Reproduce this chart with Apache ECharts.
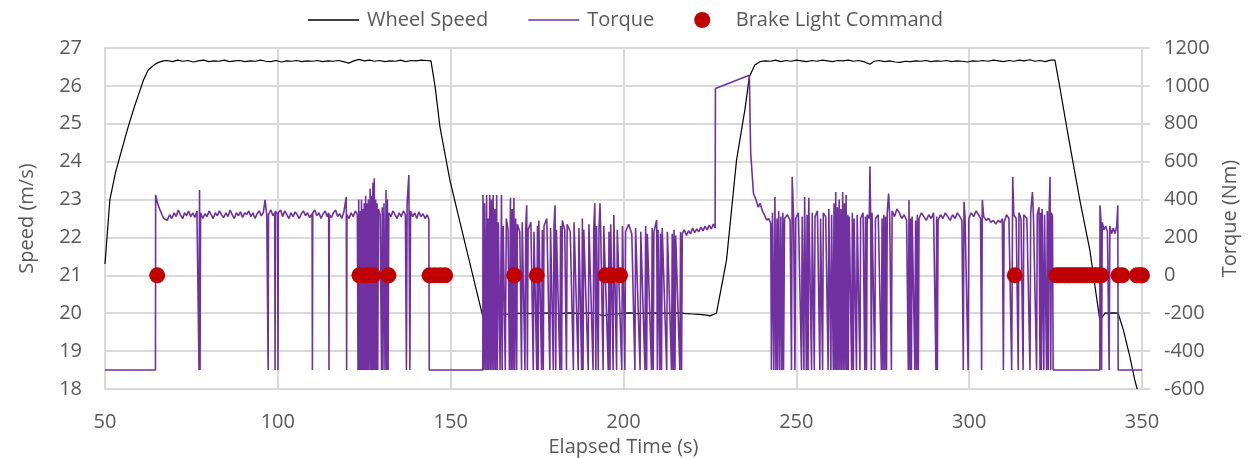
<!DOCTYPE html>
<html><head><meta charset="utf-8">
<script src="https://cdn.jsdelivr.net/npm/echarts@6/dist/echarts.min.js"></script>
<style>html,body{margin:0;padding:0;background:#fff}#c{width:1251px;height:458px}</style>
</head><body><div id="c"></div>
<script>
// Elapsed time ticks
const xTicks = {min: 50, max: 350, step: 50};
const speedTicks = {min: 18, max: 27, step: 1};
const torqueTicks = {min: -600, max: 1200, step: 200};

// Wheel speed [time s, speed m/s]
const wheelSpeed = [
[50,21.3],[51.4,22.99],[53,23.7],[54.8,24.3],[56.7,24.92],[58.5,25.45],[60,25.85],[61.1,26.15],[62.5,26.42],[63.5,26.5],[64.5,26.57],[65.5,26.62],[66.9,26.66],
[68,26.67],[69.5,26.64],[71,26.68],[72.5,26.65],[74,26.67],[75.5,26.63],[77,26.66],[78.5,26.68],[80,26.64],[81.5,26.66],[83,26.65],[84.5,26.68],[86,26.64],[87.5,26.66],[89,26.67],[90.5,26.64],[92,26.66],[93.5,26.65],[95,26.68],[96.5,26.65],[98,26.64],[99.5,26.67],[101,26.63],[102.5,26.66],[104,26.65],[105.5,26.67],[107,26.64],[108.5,26.66],[110,26.65],[111.5,26.67],[113,26.64],[114.5,26.66],[116,26.65],[117.5,26.67],[119,26.64],[120.5,26.6],[122,26.66],[123.5,26.7],[125,26.66],[126.5,26.68],[128,26.65],[129.5,26.67],[131,26.64],[132.5,26.66],[134,26.65],[135.5,26.68],[137,26.64],[138.5,26.67],[140,26.66],[141.5,26.68],[143,26.67],[144.3,26.66],
[145.5,25.98],[146.9,24.92],[149.8,23.5],[152.7,22.4],[155.6,21.3],[159.3,19.91],
[161,19.94],[163,19.96],[165.2,19.98],[167,19.97],[169,19.99],[171,20.0],[173,19.99],[174.9,20.01],[177,20.0],[179,20.01],[181,19.99],[183,20.0],[185,20.01],[187,19.99],[189,20.0],[191,20.01],[192.5,19.98],[194.1,19.93],[196,19.97],[198,19.98],[200,20.0],[202,20.01],[204,19.99],[206,20.0],[208,20.01],[210.5,20.0],[213.4,20.0],[216,20.01],[218,19.99],[220,19.98],[222,19.97],[224,19.95],[225,19.93],[226.9,20.0],
[229.8,21.4],[232.7,24.04],[235.1,25.36],[236.4,26.24],[238,26.55],[239.5,26.64],
[241,26.66],[242.5,26.65],[244,26.68],[245.5,26.64],[247,26.67],[248.5,26.65],[250,26.68],[251.5,26.66],[253,26.64],[254.5,26.67],[256,26.65],[257.5,26.68],[259,26.66],[260.5,26.64],[262,26.67],[263.5,26.66],[265,26.68],[266.5,26.65],[268,26.67],[269.5,26.64],[271.3,26.57],[272.5,26.65],[274,26.67],[275.5,26.64],[277,26.66],[278.5,26.63],[280,26.62],[281.5,26.65],[283,26.64],[284.5,26.66],[286,26.65],[287.5,26.67],[289,26.64],[290.5,26.66],[292,26.65],[293.5,26.67],[295,26.64],[296.5,26.66],[298,26.65],[299.5,26.63],[301,26.66],[302.5,26.65],[304,26.67],[305.5,26.65],[307,26.68],[308.5,26.66],[310,26.64],[311.5,26.67],[313,26.65],[314.5,26.68],[316,26.66],[317.5,26.69],[319,26.65],[320.5,26.67],[322,26.64],[323.5,26.68],[324.8,26.68],
[326.2,25.98],[328.2,24.92],[330,24.0],[332,22.99],[334.9,21.67],[337.8,19.82],[338.5,19.9],[339.3,20.0],[341.7,20.01],[343.1,20.0],[344.6,19.56],[346.5,18.85],[347.9,18.24],[348.6,18.0]
];

// Torque [time s, torque Nm]
const torque = [
[50,-500],[64.6,-500],[64.65,425],[65.2,380],[65.8,350],[66.5,320],[67,300],[67.5,310],[68,290],[68.7,320],[69.3,300],[70,330],[70.6,310],[71.2,345],[71.8,320],[72.5,300],[73,330],[73.6,315],[74.2,340],[74.8,310],[75.4,330],[76,305],[76.6,340],[77.1,330],[77.2,-500],[77.35,450],[77.5,-500],[77.65,330],[78.3,300],[78.9,325],[79.5,310],[80.1,340],[80.7,320],[81.3,300],[81.9,330],[82.5,315],[83.1,340],[83.7,320],[84.3,305],[85,330],[85.6,310],[86.2,345],[86.8,320],[87.4,300],[88,330],[88.6,315],[89.2,335],[89.8,305],[90.4,330],[91,320],[91.6,340],[92.2,310],[92.8,330],[93.4,300],[94,325],[94.6,340],[95.2,315],[95.8,330],[96.3,398],[96.8,320],[97.1,330],[97.2,-500],[97.3,320],[98,345],[98.6,315],[99.1,330],[99.2,-500],[99.3,340],[99.9,320],[100.05,-500],[100.15,330],[100.8,345],[101.4,310],[102,340],[102.6,320],[103.2,300],[103.8,330],[104.4,310],[105,335],[105.6,320],[106.2,300],[106.8,325],[107.4,340],[108,315],[108.6,330],[109.2,305],[109.9,325],[110,-500],[110.1,330],[110.7,345],[111.3,315],[111.9,330],[112.5,300],[113.1,325],[113.7,340],[114.3,310],[114.7,330],[114.8,-500],[114.9,320],[115.5,305],[116.1,330],[116.7,345],[117.3,310],[117.9,325],[118.5,300],[119.1,335],[119.8,414],[119.9,-500],[120,320],[120.6,300],[121.2,330],[121.8,310],[122.4,340],[123,320],[123.2,-500],[123.4,400],[123.6,-500],[123.8,340],[124,-500],[124.2,400],[124.4,-500],[124.6,350],[124.8,-500],[125,380],[125.2,-500],[125.4,420],[125.6,-500],[125.8,380],[126,-500],[126.2,400],[126.4,-500],[126.7,458],[126.9,-500],[127.1,420],[127.3,-500],[127.5,490],[127.7,-500],[127.9,512],[128.1,-500],[128.3,400],[128.5,-500],[128.7,380],[128.9,-500],[129.1,350],[129.6,320],[130,-500],[130.2,360],[130.4,-500],[130.7,380],[131,-500],[131.3,450],[131.5,-500],[131.7,400],[131.9,-500],[132.1,330],[132.7,310],[133.3,340],[133.9,320],[134.5,300],[135.1,330],[135.7,310],[136.3,340],[136.9,320],[137.2,-500],[137.4,380],[137.9,530],[138.2,-500],[138.4,340],[139,310],[139.6,330],[140.2,300],[140.8,335],[141.4,310],[142,325],[142.6,300],[143.2,320],[143.7,295],[143.8,-500],[159.3,-500],
[159.35,424],[159.6,-500],[159.8,380],[160.1,-500],[160.4,424],[160.6,-500],[160.8,300],[161,-500],[161.3,424],[161.5,-500],[161.8,400],[162,-500],[162.3,424],[162.5,-500],[162.8,350],[163,-500],[163.3,424],[163.5,-500],[163.8,280],[164.3,-500],[164.7,424],[164.9,-500],[165.2,260],[165.8,-500],[166.1,300],[166.6,240],[167,-500],[167.3,410],[167.5,-500],[167.8,350],[168,-500],[168.3,410],[168.5,-500],[168.8,300],[169.1,-500],[169.3,270],[170,230],[170.5,-500],[170.7,280],[171.5,-500],[171.7,250],[172,370],[172.2,-500],[172.4,240],[173.2,280],[173.9,-500],[174.1,230],[174.9,-500],[175.1,260],[175.3,-500],[175.5,290],[176.3,-500],[176.5,240],[176.8,-500],[177,260],[177.8,300],[178.7,-500],[178.9,250],[179.7,-500],[179.9,270],[180.2,370],[180.4,-500],[180.6,240],[181.6,-500],[181.8,260],[182.1,-500],[182.3,290],[183,240],[183.5,-500],[183.7,270],[184.6,230],[185.5,-500],[185.7,280],[186.9,-500],[187.1,250],[187.9,-500],[188.1,300],[188.3,-500],[188.5,240],[189.8,-500],[190,270],[191.2,-500],[191.4,250],[191.7,380],[192,-500],[192.2,260],[192.7,-500],[192.9,240],[193.2,380],[193.4,240],[194.1,-500],[194.3,260],[195.6,-500],[195.8,230],[196.1,-500],[196.3,270],[197,-500],[197.2,318],[198,-500],[198.2,240],[199.5,-500],[199.7,260],[200.4,-500],[200.6,230],[201.5,270],[202.4,220],[203.3,-500],[203.5,250],[204.8,-500],[205,230],[206.2,-500],[206.4,260],[206.7,-500],[206.9,220],[208.1,-500],[208.3,250],[208.6,-500],[208.8,230],[209.6,292],[209.8,-500],[210,240],[210.5,-500],[210.7,220],[211,-500],[211.2,250],[212.5,-500],[212.7,230],[213.9,-500],[214.1,220],[214.4,-500],[214.6,240],[214.9,-500],[215.1,210],[216.3,-500],[216.5,230],[216.8,-500],[217,220],
[217.6,240],[218.2,210],[218.8,235],[219.4,220],[220,250],[220.6,225],[221.2,245],[221.8,230],[222.4,255],[223,235],[223.6,260],[224.2,240],[224.8,265],[225.4,245],[226,270],[226.5,250],[226.6,986],[236.4,1056],[236.8,644],[237.6,432],[238.3,400],[239,360],[239.5,380],[240.2,340],[241,310],[241.4,292],[242,300],[242.6,274],
[242.8,-500],[243.1,330],[243.5,-500],[243.8,414],[244.1,-500],[244.4,300],[244.6,-500],[244.9,340],[245.2,-500],[245.5,310],[245.8,-500],[246.1,330],[246.3,-500],[246.6,300],[247.4,320],[248.2,290],[248.6,-500],[248.8,520],[249.2,310],[249.6,-500],[249.8,300],[250.6,330],[251.5,-500],[251.7,310],[252.2,-500],[252.4,414],[252.9,-500],[253.1,320],[253.4,-500],[253.6,410],[254.4,-500],[254.6,330],[255.2,-500],[255.4,310],[256.1,340],[256.8,-500],[257,300],[257.6,-500],[257.8,330],[258.5,310],[259.2,-500],[259.4,350],[260,-500],[260.2,320],[260.7,-500],[260.9,380],[261.2,-500],[261.4,440],[261.6,-500],[261.9,360],[262.1,-500],[262.4,400],[262.6,-500],[262.9,350],[263.1,-500],[263.4,440],[263.6,-500],[263.9,380],[264.1,-500],[264.4,424],[264.6,-500],[264.9,320],[265,-500],[265.3,310],[266,-500],[266.2,330],[266.5,-500],[266.7,300],[267.4,-500],[267.6,320],[268.4,-500],[268.6,300],[269.3,330],[269.8,-500],[270,310],[270.3,-500],[270.5,320],[271.1,300],[271.3,574],[271.5,310],[271.7,-500],[271.9,330],[272.7,-500],[272.9,300],[273.7,320],[274.6,-500],[274.8,300],[275.1,-500],[275.3,320],[275.6,-500],[275.8,310],[276.1,-500],[276.3,330],[276.7,432],[277,320],[277.5,-500],[277.7,340],[278.4,310],[279.1,350],[279.8,330],[280.5,300],[281.2,320],[281.9,290],[282.4,-500],[282.6,398],[282.9,-500],[283.1,300],[283.3,-500],[283.5,310],[284.3,-500],[284.5,290],[284.8,-500],[285,320],[285.3,-500],[285.5,300],[286.2,330],[286.9,310],[287.6,290],[288.3,320],[289,300],[289.7,330],[290.4,-500],[290.6,310],[290.8,-500],[291,290],[291.7,320],[292.4,300],[293.1,330],[293.8,310],[294.5,290],[295.2,320],[295.9,300],[296.6,330],[297.3,310],[297.9,290],[298.3,-500],[298.5,388],[298.8,310],[299.7,-500],[299.9,300],[300.6,330],[301.3,310],[302,340],[302.7,320],[303.3,300],[303.6,-500],[303.8,398],[304.2,310],[304.9,290],[305.6,300],[306.3,280],[307,290],[307.7,270],[308.4,290],[309.1,280],[309.6,300],[309.9,-500],[310.1,280],[310.8,320],[311.5,300],[312.3,-500],[312.6,520],[312.9,320],[313.6,300],[314.2,-500],[314.4,330],[315,300],[315.6,-500],[315.8,320],[316.7,300],[317.6,-500],[317.8,330],[318.3,440],[318.6,310],[319.5,-500],[319.7,320],[320.2,360],[320.5,-500],[320.7,330],[320.9,-500],[321.1,350],[321.6,-500],[321.8,320],[322.4,-500],[322.6,340],[322.9,-500],[323.1,320],[323.4,520],[323.6,-500],[323.8,330],[324.1,310],[324.3,-500],[337.8,-500],
[337.85,370],[338.1,300],[338.3,-500],[338.5,280],[339,240],[339.5,260],[340,230],[340.5,-500],[340.7,260],[341.2,220],[341.7,250],[342.2,220],[342.7,260],[343,370],[343.1,-500],[350,-500]
];

// Brake light command: times when the command is on, plotted at the 21 m/s (0 Nm) level
const brakeTimes = [65.1,123.6,125.7,127.6,132.0,143.9,145.5,147.0,148.4,168.4,174.9,194.8,196.5,199.0,313.2,
325.2,326.0,326.8,327.6,328.4,329.2,330.0,330.8,331.6,332.4,333.2,334.0,334.8,335.6,336.4,337.2,338.2,
343.2,344.3,348.5,349.5,350.0];
const brakeLevel = 21;

const labelColor = '#595959';
const gridColor = '#d9d9d9';
const font = 'Open Sans';
const lineIcon = 'path://M0,0L51,0L51,1.4L0,1.4Z';

const chart = echarts.init(document.getElementById('c'), null, {renderer: 'canvas'});
chart.setOption({
  animation: false,
  backgroundColor: '#ffffff',
  textStyle: {fontFamily: font},
  legend: {
    top: 5, left: 'center', itemWidth: 51, itemHeight: 16, itemGap: 40, symbolKeepAspect: true,
    textStyle: {fontFamily: font, fontSize: 20, color: labelColor, padding: [0,0,0,3]},
    data: [
      {name: 'Wheel Speed', icon: lineIcon},
      {name: 'Torque', icon: lineIcon},
      {name: 'Brake Light Command', icon: 'circle'}
    ]
  },
  grid: {left: 105, right: 109, top: 48, bottom: 69, containLabel: false, outerBoundsMode: 'none'},
  xAxis: {
    type: 'value', min: xTicks.min, max: xTicks.max, interval: xTicks.step,
    name: 'Elapsed Time (s)', nameLocation: 'middle', nameGap: 40,
    nameTextStyle: {fontFamily: font, fontSize: 20, color: labelColor},
    axisLine: {show: true, lineStyle: {color: gridColor, width: 2}},
    axisTick: {show: false},
    axisLabel: {fontFamily: font, fontSize: 20, color: labelColor, margin: 23},
    splitLine: {show: true, lineStyle: {color: gridColor, width: 2}}
  },
  yAxis: [{
    type: 'value', min: speedTicks.min, max: speedTicks.max, interval: speedTicks.step,
    name: 'Speed (m/s)', nameLocation: 'middle', nameGap: 68,
    nameTextStyle: {fontFamily: font, fontSize: 20, color: labelColor},
    axisLine: {show: true, lineStyle: {color: gridColor, width: 2}},
    axisTick: {show: false},
    axisLabel: {fontFamily: font, fontSize: 20, color: labelColor, margin: 23},
    splitLine: {show: true, lineStyle: {color: gridColor, width: 2}}
  }, {
    type: 'value', min: torqueTicks.min, max: torqueTicks.max, interval: torqueTicks.step,
    name: 'Torque (Nm)', nameLocation: 'middle', nameGap: 72,
    nameTextStyle: {fontFamily: font, fontSize: 20, color: labelColor},
    axisLine: {show: true, lineStyle: {color: gridColor, width: 2}},
    axisTick: {show: true, inside: false, length: 8, lineStyle: {color: gridColor, width: 2}},
    axisLabel: {fontFamily: font, fontSize: 20, color: labelColor, margin: 22, formatter: v => String(v)},
    splitLine: {show: false}
  }],
  series: [{
    name: 'Wheel Speed', type: 'line', yAxisIndex: 0, data: wheelSpeed,
    symbol: 'none', showSymbol: false, lineStyle: {color: '#000000', width: 1.2}, itemStyle: {color: '#000000'}, z: 2
  }, {
    name: 'Torque', type: 'line', yAxisIndex: 1, data: torque,
    symbol: 'none', showSymbol: false, lineStyle: {color: '#7030A0', width: 1.6}, itemStyle: {color: '#7030A0'}, z: 3
  }, {
    name: 'Brake Light Command', type: 'scatter', yAxisIndex: 0,
    data: brakeTimes.map(t => [t, brakeLevel]),
    symbol: 'circle', symbolSize: 16, itemStyle: {color: '#C00000', opacity: 1}, z: 4
  }]
});
</script></body></html>
